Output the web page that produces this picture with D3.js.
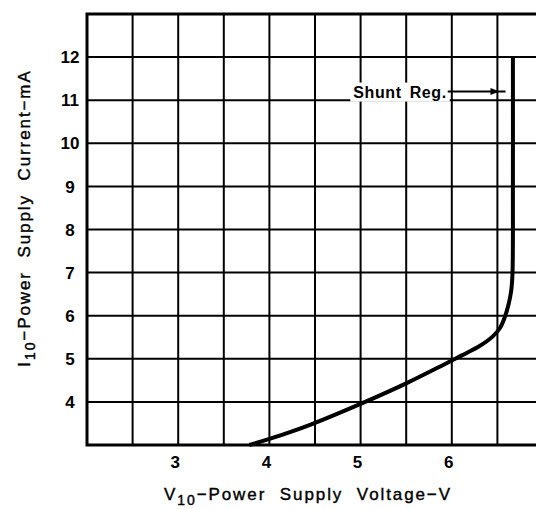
<!DOCTYPE html>
<html>
<head>
<meta charset="utf-8">
<script src="https://cdn.jsdelivr.net/npm/d3@7"></script>
<style>
  body { margin: 0; background: #fff; }
  svg { display: block; }
  .grid line { stroke: #000; stroke-width: 2; }
  .tick-label { font-family: "Liberation Sans", Arial, sans-serif; font-weight: bold; font-size: 17px; }
  .title { font-family: "Liberation Sans", Arial, sans-serif; font-size: 17px; letter-spacing: 1.9px; word-spacing: 7px; stroke: #000; stroke-width: 0.4px; }
</style>
</head>
<body>
<div id="chart"></div>
<script>
// supply voltage (V) vs supply current (mA)
var voltage = [3.78, 4.0, 4.46, 5.05, 5.5, 5.89, 6.11, 6.30, 6.45, 6.53, 6.58, 6.62, 6.65, 6.665, 6.67, 6.67];
var current = [3.0, 3.14, 3.48, 4.0, 4.43, 4.84, 5.08, 5.29, 5.52, 5.72, 5.96, 6.24, 6.56, 6.96, 9.0, 12.0];

var xTickLabels = [3, 4, 5, 6];
var yTickLabels = [4, 5, 6, 7, 8, 9, 10, 11, 12];
var xGrid = [2.5, 3, 3.5, 4, 4.5, 5, 5.5, 6, 6.5];
var yGrid = [4, 5, 6, 7, 8, 9, 10, 11, 12];

var shuntLabel = "Shunt Reg.";
var shuntCurrent = 11.2;
var shuntTextVoltage = 4.92;
var shuntArrowVoltage = 6.6;

var width = 536, height = 509;

var x = d3.scaleLinear().domain([2, 7]).range([87, 543]);
var y = d3.scaleLinear().domain([3, 13]).range([445, 14]);

var svg = d3.select("#chart").append("svg")
    .attr("width", width)
    .attr("height", height);

// grid
var grid = svg.append("g").attr("class", "grid");
grid.selectAll("line.v").data(xGrid).enter().append("line")
    .attr("class", "v")
    .attr("x1", d => x(d)).attr("x2", d => x(d))
    .attr("y1", y(13)).attr("y2", y(3));
grid.selectAll("line.h").data(yGrid).enter().append("line")
    .attr("class", "h")
    .attr("x1", x(2)).attr("x2", x(7))
    .attr("y1", d => y(d)).attr("y2", d => y(d));

// frame
svg.append("rect")
    .attr("x", x(2)).attr("y", y(13))
    .attr("width", x(7) - x(2)).attr("height", y(3) - y(13))
    .attr("fill", "none").attr("stroke", "#000").attr("stroke-width", 3);

// tick labels
svg.selectAll("text.xl").data(xTickLabels).enter().append("text")
    .attr("class", "tick-label")
    .attr("x", d => x(d) - 3).attr("y", 468)
    .attr("text-anchor", "middle")
    .text(d => d);
svg.selectAll("text.yl").data(yTickLabels).enter().append("text")
    .attr("class", "tick-label")
    .attr("x", 70).attr("y", d => y(d))
    .attr("dy", "0.36em")
    .attr("text-anchor", "middle")
    .text(d => d);

// curve
var pts = voltage.map((v, i) => [x(v), y(current[i])]);
var line = d3.line().curve(d3.curveCatmullRom.alpha(0.5));
svg.append("path")
    .attr("d", line(pts))
    .attr("fill", "none").attr("stroke", "#000")
    .attr("stroke-width", 4).attr("stroke-linejoin", "round");

// shunt reg annotation
var ann = svg.append("g");
var annText = ann.append("text")
    .attr("class", "tick-label")
    .attr("x", x(shuntTextVoltage)).attr("y", y(shuntCurrent) + 6)
    .style("font-size", "16px").style("letter-spacing", "0.6px").style("word-spacing", "3px")
    .text(shuntLabel);
var bb = annText.node().getBBox();
ann.insert("rect", "text")
    .attr("x", bb.x - 3).attr("y", bb.y - 1)
    .attr("width", bb.width + 6).attr("height", bb.height + 2)
    .attr("fill", "#fff");
var ay = y(shuntCurrent);
ann.append("line")
    .attr("x1", bb.x + bb.width + 1).attr("x2", x(shuntArrowVoltage) - 1)
    .attr("y1", ay).attr("y2", ay)
    .attr("stroke", "#000").attr("stroke-width", 2);
var tip = x(shuntArrowVoltage) - 7;
ann.append("path")
    .attr("d", d3.line()([[tip - 9, ay - 3.5], [tip, ay], [tip - 9, ay + 3.5]]) + "Z")
    .attr("fill", "#000");

// axis titles
var xt = svg.append("text").attr("class", "title")
    .attr("x", 308).attr("y", 500).attr("text-anchor", "middle");
xt.append("tspan").text("V");
xt.append("tspan").attr("dy", 5).style("font-size", "14px").text("10");
xt.append("tspan").attr("dy", -5).text("\u2212Power Supply Voltage\u2212V");

var yt = svg.append("text").attr("class", "title")
    .attr("transform", "translate(30,218) rotate(-90)")
    .attr("text-anchor", "middle");
yt.append("tspan").text("I");
yt.append("tspan").attr("dy", 5).style("font-size", "14px").text("10");
yt.append("tspan").attr("dy", -5).text("\u2212Power Supply Current\u2212mA");
</script>
</body>
</html>
